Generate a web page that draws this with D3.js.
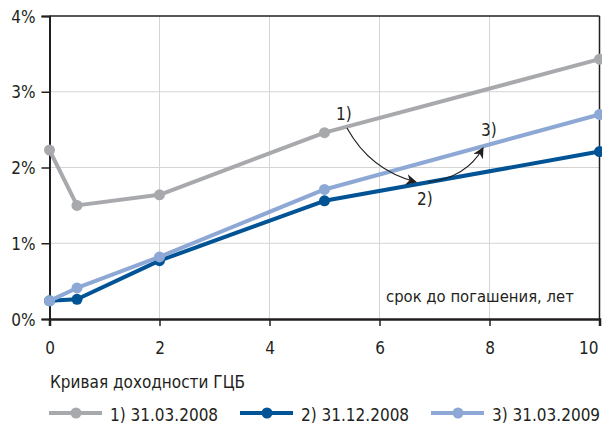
<!DOCTYPE html>
<html>
<head>
<meta charset="utf-8">
<script src="https://cdn.jsdelivr.net/npm/d3@7"></script>
<style>
  html, body { margin: 0; padding: 0; background: #fff; }
  svg { display: block; }
  text { font-family: "Liberation Sans Narrow", "DejaVu Sans Condensed", "Liberation Sans", sans-serif; fill: #231f20; }
</style>
</head>
<body>
<svg id="chart" width="602" height="431"></svg>
<script>
// Maturity (years) for each point on the yield curves
const maturities = [0, 0.5, 2, 5, 10];

// Government bond yields, %
const yields2008Mar = [2.23, 1.50, 1.64, 2.46, 3.43];
const yields2008Dec = [0.24, 0.26, 0.77, 1.56, 2.21];
const yields2009Mar = [0.24, 0.41, 0.82, 1.71, 2.70];

const seriesNames = ["1) 31.03.2008", "2) 31.12.2008", "3) 31.03.2009"];
const seriesColors = ["#a7a9ac", "#005495", "#8ea8d6"];

const xTicks = [0, 2, 4, 6, 8, 10];
const yTicks = [0, 1, 2, 3, 4];

const legendTitle = "Кривая доходности ГЦБ";
const xAxisTitle = "срок до погашения, лет";
const curveLabels = ["1)", "2)", "3)"];

const svg = d3.select("#chart");
const x = d3.scaleLinear().domain([0, 10]).range([49.5, 599.5]);
const y = d3.scaleLinear().domain([0, 4]).range([319, 16]);

// grid
const grid = svg.append("g");
grid.selectAll(".gx").data(xTicks.filter(d => d > 0 && d < 10)).enter().append("line")
  .attr("x1", d => x(d)).attr("x2", d => x(d)).attr("y1", y(4)).attr("y2", y(0))
  .attr("stroke", "#d4d4d4").attr("stroke-width", 1);
grid.selectAll(".gy").data(yTicks.filter(d => d > 0 && d < 4)).enter().append("line")
  .attr("x1", x(0)).attr("x2", x(10)).attr("y1", d => y(d)).attr("y2", d => y(d))
  .attr("stroke", "#d4d4d4").attr("stroke-width", 1);

// frame
svg.append("line").attr("x1", x(0)).attr("x2", x(10)).attr("y1", y(4)).attr("y2", y(4))
  .attr("stroke", "#231f20").attr("stroke-width", 1.5);
svg.append("line").attr("x1", x(10)).attr("x2", x(10)).attr("y1", y(4)).attr("y2", y(0))
  .attr("stroke", "#231f20").attr("stroke-width", 1.5);

// axes
const yAxis = d3.axisLeft(y).tickValues(yTicks).tickFormat(d => d + "%").tickSize(8).tickPadding(6);
const gy = svg.append("g").attr("transform", `translate(${x(0)},0)`).call(yAxis);
gy.select(".domain").attr("stroke", "#231f20").attr("stroke-width", 2);
gy.selectAll(".tick line").attr("stroke", "#231f20").attr("stroke-width", 1.5);
gy.selectAll(".tick text").attr("font-size", 17).attr("dy", "0.36em").attr("fill", "#231f20");

const xAxis = d3.axisBottom(x).tickValues(xTicks).tickFormat(d3.format("d")).tickSize(7).tickPadding(16);
const gx = svg.append("g").attr("transform", `translate(0,${y(0)})`).call(xAxis);
gx.select(".domain").attr("stroke", "#231f20").attr("stroke-width", 2.5);
gx.selectAll(".tick line").attr("stroke", "#231f20").attr("stroke-width", 1.5)
  .attr("display", d => d === 0 ? "none" : null);
gx.selectAll(".tick text").attr("font-size", 17).attr("fill", "#231f20")
  .attr("text-anchor", d => d === 10 ? "end" : "middle")
  .attr("dx", d => d === 10 ? -1.5 : 0);

svg.append("text").attr("x", 386).attr("y", 302).attr("font-size", 16.5).text(xAxisTitle);

// curves
const allSeries = [yields2008Mar, yields2008Dec, yields2009Mar];
const line = d3.line().x((d, i) => x(maturities[i])).y(d => y(d));
const drawOrder = [0, 1, 2];
drawOrder.forEach(s => {
  const g = svg.append("g");
  g.append("path").datum(allSeries[s]).attr("d", line)
    .attr("fill", "none").attr("stroke", seriesColors[s]).attr("stroke-width", 4)
    .attr("stroke-linejoin", "round");
  g.selectAll("circle").data(allSeries[s]).enter().append("circle")
    .attr("cx", (d, i) => x(maturities[i])).attr("cy", d => y(d)).attr("r", 5.5)
    .attr("fill", seriesColors[s]);
});

// transition arrows between curves
svg.append("defs").append("marker")
  .attr("id", "arrowhead").attr("viewBox", "0 0 10 10").attr("refX", 9).attr("refY", 5)
  .attr("markerWidth", 11).attr("markerHeight", 11).attr("markerUnits", "userSpaceOnUse")
  .attr("orient", "auto")
  .append("path").attr("d", "M0,0 L10,5 L0,10 L3,5 Z").attr("fill", "#231f20");

svg.append("path").attr("d", "M347,128 Q370,170 416,182")
  .attr("fill", "none").attr("stroke", "#231f20").attr("stroke-width", 1.2)
  .attr("marker-end", "url(#arrowhead)");
svg.append("path").attr("d", "M428,182 Q466,178 483,148")
  .attr("fill", "none").attr("stroke", "#231f20").attr("stroke-width", 1.2)
  .attr("marker-end", "url(#arrowhead)");

const labelPos = [[336, 120], [417, 205], [481, 136]];
curveLabels.forEach((t, i) => {
  svg.append("text").attr("x", labelPos[i][0]).attr("y", labelPos[i][1])
    .attr("font-size", 17).text(t);
});

// legend
svg.append("text").attr("x", 50).attr("y", 388).attr("font-size", 17).text(legendTitle);
const legendX = [49, 240, 431];
seriesNames.forEach((name, i) => {
  const g = svg.append("g").attr("transform", `translate(${legendX[i]},413)`);
  g.append("line").attr("x1", 0).attr("x2", 53).attr("y1", 0).attr("y2", 0)
    .attr("stroke", seriesColors[i]).attr("stroke-width", 4);
  g.append("circle").attr("cx", 27).attr("cy", 0).attr("r", 5.5).attr("fill", seriesColors[i]);
  g.append("text").attr("x", 61).attr("y", 8).attr("font-size", 17).text(name);
});
</script>
</body>
</html>
